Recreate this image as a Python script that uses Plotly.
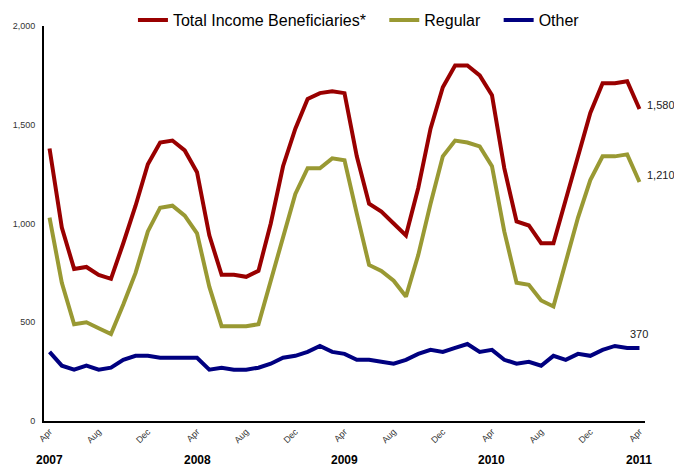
import plotly.graph_objects as go

# monthly, Apr 2007 .. Apr 2011
month_names = ["Jan", "Feb", "Mar", "Apr", "May", "Jun",
               "Jul", "Aug", "Sep", "Oct", "Nov", "Dec"]
months = []
for k in range(49):
    m = (3 + k) % 12
    y = 2007 + (3 + k) // 12
    months.append(f"{month_names[m]} {y}")

total = [1380, 980, 770, 780, 740, 720, 900, 1090, 1300, 1410, 1420, 1370,
         1260, 940, 740, 740, 730, 760, 1000, 1290, 1480, 1630, 1660, 1670,
         1660, 1340, 1100, 1060, 1000, 940, 1180, 1480, 1690, 1800, 1800, 1750,
         1650, 1280, 1010, 990, 900, 900, 1120, 1340, 1560, 1710, 1710, 1720,
         1580]
regular = [1030, 700, 490, 500, 470, 440, 590, 750, 960, 1080, 1090, 1040,
           950, 680, 480, 480, 480, 490, 710, 940, 1150, 1280, 1280, 1330,
           1320, 1050, 790, 760, 710, 630, 840, 1100, 1340, 1420, 1410, 1390,
           1290, 960, 700, 690, 610, 580, 810, 1030, 1220, 1340, 1340, 1350,
           1210]
other = [350, 280, 260, 280, 260, 270, 310, 330, 330, 320, 320, 320,
         320, 260, 270, 260, 260, 270, 290, 320, 330, 350, 380, 350,
         340, 310, 310, 300, 290, 310, 340, 360, 350, 370, 390, 350,
         360, 310, 290, 300, 280, 330, 310, 340, 330, 360, 380, 370,
         370]

tick_months = months[::4]
tick_text = [s.split()[0] for s in tick_months]
year_labels = ["2007", "2008", "2009", "2010", "2011"]
year_months = ["Apr 2007", "Apr 2008", "Apr 2009", "Apr 2010", "Apr 2011"]

pad = "\u00a0" * 3  # a little extra room between legend entries

fig = go.Figure()
fig.add_trace(go.Scatter(x=months, y=total, mode="lines",
                         name="Total Income Beneficiaries*" + pad,
                         line=dict(color="#990000", width=4)))
fig.add_trace(go.Scatter(x=months, y=regular, mode="lines", name="Regular" + pad,
                         line=dict(color="#999933", width=4)))
fig.add_trace(go.Scatter(x=months, y=other, mode="lines", name="Other",
                         line=dict(color="#000080", width=4)))

# end-point value labels
fig.add_annotation(x=months[-1], y=total[-1], text=f"{total[-1]:,}",
                   xanchor="left", yanchor="middle", xshift=6, yshift=4,
                   showarrow=False, font=dict(size=11, color="#222"))
fig.add_annotation(x=months[-1], y=regular[-1], text=f"{regular[-1]:,}",
                   xanchor="left", yanchor="middle", xshift=6, yshift=7,
                   showarrow=False, font=dict(size=11, color="#222"))
fig.add_annotation(x=months[-1], y=other[-1], text=f"{other[-1]:,}",
                   xanchor="center", yanchor="middle", xshift=0, yshift=14,
                   showarrow=False, font=dict(size=11, color="#222"))

for yl, ym in zip(year_labels, year_months):
    fig.add_annotation(x=ym, y=0, xref="x", yref="paper", text=f"<b>{yl}</b>",
                       yshift=-39, yanchor="middle", showarrow=False,
                       font=dict(size=12, color="black"))

fig.update_xaxes(type="category", range=[-0.45, 48.45], automargin=False,
                 tickvals=tick_months, ticktext=tick_text, tickangle=-45,
                 tickfont=dict(size=9, color="#333"),
                 showline=True, linecolor="black", linewidth=2,
                 showgrid=False, zeroline=False, ticks="")
fig.update_yaxes(range=[0, 2000], tickvals=[0, 500, 1000, 1500, 2000],
                 automargin=False,
                 tickformat=",d", tickfont=dict(size=9, color="#333"),
                 showline=True, linecolor="black", linewidth=2,
                 showgrid=False, zeroline=False,
                 ticks="outside", ticklen=5, tickcolor="rgba(0,0,0,0)")

fig.update_layout(width=674, height=467,
                  margin={"l": 44, "r": 29, "t": 26, "b": 46,
                          "autoexpand": False},
                  paper_bgcolor="white", plot_bgcolor="white",
                  font=dict(family="Arial, Liberation Sans, sans-serif"),
                  showlegend=True,
                  legend=dict(orientation="h", x=0.148, y=1.015,
                              xanchor="left", yanchor="middle",
                              font=dict(size=16, color="black"),
                              bgcolor="rgba(0,0,0,0)"))

# page body has an 8px default margin; drop it so the figure sits at 0,0
fig.write_html("out.html", config={"displayModeBar": False},
               post_script="document.body.style.margin='0';")
